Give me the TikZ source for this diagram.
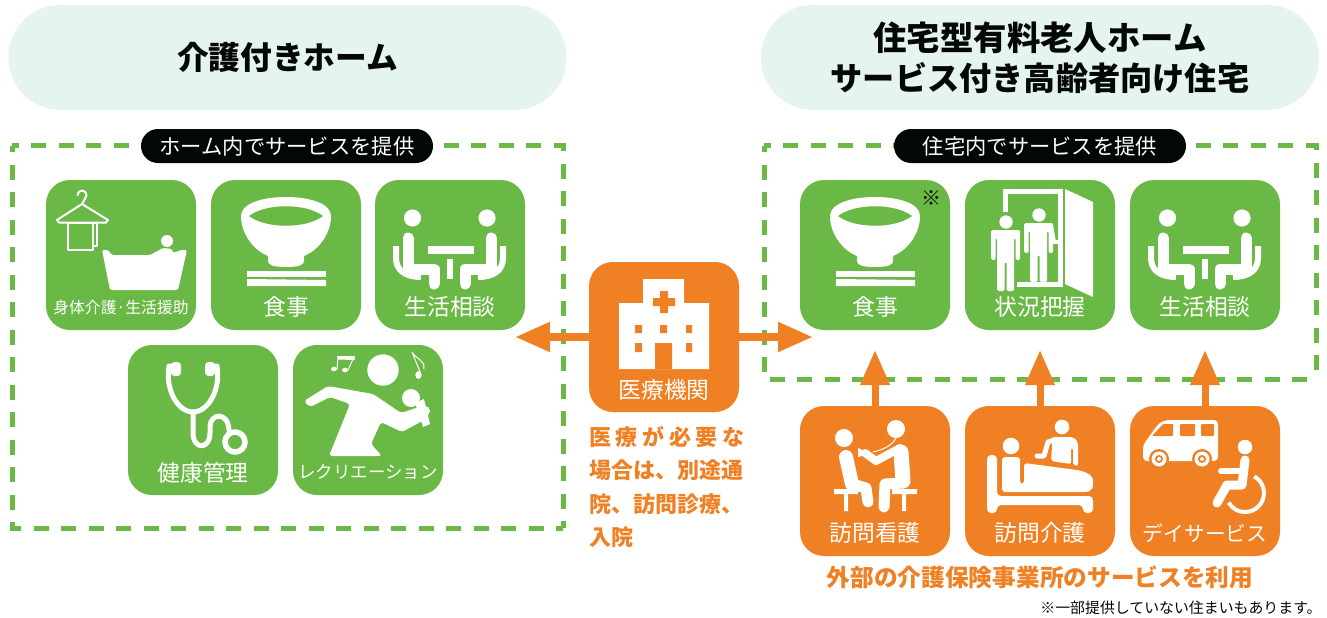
\documentclass[tikz,border=0pt]{standalone}
\usepackage{fontspec}
\setmainfont{Noto Sans CJK JP}
\usetikzlibrary{arrows.meta}
\definecolor{gr}{HTML}{6AB845}
\definecolor{og}{HTML}{EF8023}
\definecolor{mint}{HTML}{E6F4F0}
\definecolor{ink}{HTML}{040707}
\newcommand\fsz[1]{\fontsize{#1pt}{#1pt}\selectfont}
\tikzset{
 tile/.style={minimum width=150pt,minimum height=150pt,rounded corners=24pt,inner sep=0pt,draw=none},
 gtile/.style={tile,fill=gr},
 otile/.style={tile,fill=og},
 tlabel/.style={text=white,inner sep=0pt,font=\fsz{22.8}},
 titlepill/.style={fill=mint,minimum width=558pt,minimum height=105pt,rounded corners=52pt,inner sep=0pt,align=center,text=ink},
 blackpill/.style={fill=ink,minimum width=292pt,minimum height=34pt,rounded corners=17pt,inner sep=0pt,text=white,font=\fsz{21.3}},
 dashbox/.style={draw=gr,line width=5pt,dash pattern=on 15pt off 12.5pt,dash phase=8.5pt},
 oarrow/.style={draw=og,line width=8pt,-{Triangle[length=35pt,width=28pt]}},
 ln/.style={draw=white,line cap=round,line join=round},
}
\newcommand\iconBowl[2]{\begin{scope}[shift={(#1,#2)}]
 \fill[white] (30,36) .. controls (30,24) and (50,17) .. (75,17) .. controls (100,17) and (120,24) .. (120,36)
   .. controls (120,55) and (106,71) .. (93,76) -- (93,81) .. controls (93,85) and (88,87) .. (75,87) .. controls (62,87) and (57,85) .. (57,81) -- (57,76) .. controls (44,71) and (30,55) .. (30,36) -- cycle;
 \fill[gr] (38,36) .. controls (55,23) and (95,23) .. (112,36) .. controls (95,49) and (55,49) .. (38,36) -- cycle;
 \fill[white] (36,91) -- (115,91) -- (115,97) -- (36,97) -- cycle;
 \fill[white] (36,99) -- (115,100) -- (115,106) -- (36,106) -- cycle;
\end{scope}}
\newcommand\iconBath[2]{\begin{scope}[shift={(#1,#2)}]
 \draw[ln,line width=2pt] (31.5,15) arc[start angle=180,end angle=400,radius=4.5] -- (36,24) -- (62,40) -- (60,42.5) -- (13,42.5) -- (11,40) -- (36,24);
 \draw[ln,line width=2pt,line cap=butt] (22,43) rectangle (47,70);
 \draw[ln,line width=2pt,line cap=butt] (47,43) -- (51,43) -- (51,66) -- (47,66);
 \fill[white] (121,61) circle (6);
 \fill[white,rounded corners=1.5pt] (56,70) -- (62,70) -- (66,75) -- (104,75) -- (117,68) -- (126,69) -- (127,73) -- (135,70) -- (141,70) -- (132,110) -- (64,110) -- cycle;
\end{scope}}
\newcommand\iconTalk[2]{\begin{scope}[shift={(#1,#2)}]
 \fill[white] (37.5,38) circle (8.6) (112,38) circle (8.6);
 \draw[ln,line width=11pt,line join=round] (33,58) -- (33,89) -- (59,89) -- (59,104);
 \draw[ln,line width=11pt] (116,58) -- (116,89) -- (90,89) -- (90,104);
 \draw[ln,line width=6pt,line cap=butt] (21,66) -- (21,78) .. controls (21,90) and (30,97) .. (46,97);
 \draw[ln,line width=6pt,line cap=butt] (128,66) -- (128,78) .. controls (128,90) and (119,97) .. (103,97);
 \fill[white] (53,66) rectangle (99,74);
 \fill[white] (72,79) rectangle (78,99);
\end{scope}}
\newcommand\iconSteth[2]{\begin{scope}[shift={(#1,#2)}]
 \draw[ln,line width=5pt] (44,21) -- (41,21) .. controls (37,45) and (50,67) .. (65,67) .. controls (80,67) and (93,45) .. (89,21) -- (86,21);
 \draw[ln,line width=5pt] (65,67) -- (65,88) .. controls (65,105) and (82,105) .. (82,88) -- (82,82) .. controls (82,68) and (100,66) .. (101,85);
 \fill[white,rounded corners=3.5pt] (43,17) rectangle (53,31);
 \fill[white,rounded corners=3.5pt] (77,17) rectangle (87,31);
 \draw[white,line width=5.5pt] (107,97) circle (10);
\end{scope}}
\newcommand\iconSing[2]{\begin{scope}[shift={(#1,#2)}]
 \fill[white] (90,25) circle (15.7);
 \fill[white,rounded corners=3pt] (11,56) -- (35,41) -- (80,49) -- (108,68) -- (126,62) -- (131,75) -- (109,87) -- (88,77) -- (78,99) -- (89,111) -- (36,111) -- (57,59) -- (37,52) -- (17,62) -- cycle;
 \fill[white] (118,53) circle (9) (132,66) circle (5);
 \fill[white] (122,58) -- (131,54) -- (137,79) -- (130,82) -- cycle;
 \fill[white] (41,24) ellipse (3 and 2.3) (52,25) ellipse (3 and 2.3);
 \fill[white] (44,11) -- (62,11) -- (61.5,15) -- (45,14.5) -- cycle;
 \draw[white,line width=1pt] (44,24) -- (45,12) (55,25) -- (61,12);
 \fill[white] (125.5,30) ellipse (3.2 and 4);
 \draw[white,line width=1pt] (127.5,28) -- (119,7) .. controls (122,14) and (132,14) .. (131,24);
\end{scope}}
\newcommand\iconHosp[2]{\begin{scope}[shift={(#1,#2)}]
 \fill[white] (54,17) rectangle (95,42) (30,41) rectangle (120,107);
 \fill[og] (71,29) rectangle (79,51) (64,36) rectangle (86,44);
 \fill[og] (46,63) rectangle (53,71) (71,63) rectangle (78,71) (97,63) rectangle (103,71) (46,81) rectangle (53,90) (97,81) rectangle (103,90) (66,81) rectangle (83,107.2);
\end{scope}}
\newcommand\personFig[3]{\begin{scope}[shift={(#1,#2)}]
 \fill[white] (15,-8) circle (6.7);
 \fill[white,rounded corners=1.5pt] (0,30) -- (0,0) -- (29,0) -- (29,30) -- (24.5,30) -- (24.5,8) -- (23,8) -- (23,#3) -- (15.5,#3) -- (15.5,32) -- (13.5,32) -- (13.5,#3) -- (6,#3) -- (6,8) -- (4.5,8) -- (4.5,30) -- cycle;
\end{scope}}
\newcommand\iconDoor[2]{\begin{scope}[shift={(#1,#2)}]
 \draw[white,line width=5pt] (40,32) -- (40,11) -- (95,11) -- (95,104) -- (52,104);
 \fill[white] (100,9) -- (128,22) -- (128,117) -- (100,104) -- cycle;
 \personFig{26}{50}{61}
 \personFig{59}{43}{59}
 \draw[ln,line width=4pt] (86,45) -- (89,62) -- (93,62);
\end{scope}}
\newcommand\iconNurse[2]{\begin{scope}[shift={(#1,#2)}]
 \fill[white] (44,32) circle (9) (96,23) circle (9);
 \draw[ln,line width=14pt] (46,51) -- (52,78);
 \draw[ln,line width=11pt] (52,78) -- (66,82) -- (68,96);
 \draw[ln,line width=15pt] (101,46) -- (103,75);
 \draw[ln,line width=11pt] (103,77) -- (85,78) -- (84,101);
 \draw[ln,line width=8pt] (100,42) -- (76,55) -- (65,47);
 \fill[white] (58,42) -- (62,44) -- (62,50) -- (58,51) -- cycle;
 \draw[white,line width=1pt] (96,32) .. controls (92,40) and (82,44) .. (73,46);
 \fill[white] (34,83) rectangle (58,88) (44,88) rectangle (48,105);
 \fill[white] (92,83) rectangle (117,88) (102,88) rectangle (106,105);
\end{scope}}
\newcommand\iconBed[2]{\begin{scope}[shift={(#1,#2)}]
 \fill[white] (46,40) circle (8.3) (97,21) circle (7.3);
 \fill[white,rounded corners=4pt] (22,107) -- (22,49) -- (32,49) -- (32,90) -- (128,90) -- (128,107) -- (118,107) -- (118,99) -- (32,99) -- (32,107) -- cycle;
 \fill[white,rounded corners=3pt] (37,86) -- (37,51) -- (55,51) -- (55,78) -- (59,78) -- (59,57) -- (112,64) .. controls (122,66) and (128,70) .. (128,77) .. controls (128,83) and (124,86) .. (118,86) -- cycle;
 \fill[white,rounded corners=2pt] (87,31) -- (108,31) -- (113,36) -- (113,60) -- (108,59) -- (108,42) -- (106,42) -- (106,58) -- (86,55) -- (87,42) -- cycle;
 \draw[ln,line width=5pt] (89,34) -- (83,36) -- (79,50) -- (72,50);
\end{scope}}
\newcommand\iconVan[2]{\begin{scope}[shift={(#1,#2)}]
 \fill[white,rounded corners=4pt] (13,55) -- (13,39) -- (29,17) -- (36,14) -- (88,14) -- (88,55) -- cycle;
 \fill[og,rounded corners=1pt] (22,30) -- (33,18) -- (43,18) -- (43,30) -- cycle;
 \fill[og,rounded corners=1pt] (50,18) rectangle (65,30) (71,18) rectangle (84,30);
 \foreach \wx in {29,72}{
  \fill[og] (\wx,53) circle (10); \fill[white] (\wx,53) circle (7.5); \fill[og] (\wx,53) circle (4); \fill[white] (\wx,53) circle (2);}
 \fill[white] (115,41) circle (7.3);
 \draw[ln,line width=9pt] (115,54) -- (112,79) -- (97,79) -- (87,97);
 \draw[ln,line width=6pt] (113,65) -- (91,65);
 \draw[white,line width=4pt] (124.2,70.4) arc[start angle=-61,end angle=150,radius=19];
\end{scope}}
\begin{document}
\begin{tikzpicture}[x=1pt,y=1pt,yscale=-1]
\useasboundingbox (0,0) rectangle (1327,618);
% titles
\node[titlepill,font=\fontsize{31.7}{31.7}\selectfont\bfseries] (titleL) at (287.5,57.5) {介護付きホーム};
\node[titlepill,font=\fontsize{33}{40}\selectfont\bfseries] (titleR) at (1040,57.5) {{\fontsize{33.4}{40}\selectfont 住宅型有料老人ホーム}\\{\fontsize{32.2}{40}\selectfont サービス付き高齢者向け住宅}};
% dashed frames
\coordinate (la) at (12,145.5); \coordinate (lb) at (563,145.5); \coordinate (lc) at (563,528); \coordinate (ld) at (12,528);
\coordinate (ra) at (764,145.5); \coordinate (rb) at (1316,145.5); \coordinate (rc) at (1316,379); \coordinate (rd) at (764,379);
\draw[dashbox] (la) -- (lb) -- (lc);
\draw[dashbox] (la) -- (ld) -- (lc);
\draw[dashbox] (ra) -- (rb) -- (rc);
\draw[dashbox] (ra) -- (rd) -- (rc);
\node[blackpill] (pillL) at (287,146) {ホーム内でサービスを提供};
\node[blackpill] (pillR) at (1040,146) {住宅内でサービスを提供};
% left tiles
\node[gtile] (a1) at (121,255) {};
\node[gtile] (a2) at (286,255) {};
\node[gtile] (a3) at (450,255) {};
\node[gtile] (a4) at (203,420) {};
\node[gtile] (a5) at (368,420) {};
% hospital
\node[otile] (hosp) at (664,337) {};
% right tiles
\node[gtile] (b1) at (875,255) {};
\node[gtile] (b2) at (1040,255) {};
\node[gtile] (b3) at (1205,255) {};
\node[otile] (c1) at (875,481) {};
\node[otile] (c2) at (1040,481) {};
\node[otile] (c3) at (1205,481) {};
% arrows
\coordinate (tipL) at (515,337); \coordinate (tipR) at (813,337);
\draw[oarrow] (hosp.west) -- (tipL);
\draw[oarrow] (hosp.east) -- (tipR);
\coordinate (up1) at (875,350); \coordinate (up2) at (1040,350); \coordinate (up3) at (1205,350);
\draw[oarrow,line width=7pt] (c1.north) -- (up1);
\draw[oarrow,line width=7pt] (c2.north) -- (up2);
\draw[oarrow,line width=7pt] (c3.north) -- (up3);
% icons
\iconBath{46}{180}
\iconBowl{211}{180}
\iconTalk{375}{180}
\iconSteth{128}{345}
\iconSing{293}{345}
\iconHosp{589}{262}
\iconBowl{800}{180}
\iconDoor{965}{180}
\iconTalk{1130}{180}
\iconNurse{800}{406}
\iconBed{965}{406}
\iconVan{1130}{406}
% labels
\node[tlabel,font=\fsz{15.8}] (a1t) at (121,307) {身体介護·生活援助};
\node[tlabel] (a2t) at (286,307) {食事};
\node[tlabel] (a3t) at (450,307) {生活相談};
\node[tlabel] (a4t) at (203,473) {健康管理};
\node[tlabel,font=\fsz{17.4}] (a5t) at (368,472) {レクリエーション};
\node[tlabel] (hospt) at (664,390) {医療機関};
\node[tlabel] (b1t) at (875,307) {食事};
\node[tlabel] (b2t) at (1040,307) {状況把握};
\node[tlabel] (b3t) at (1205,307) {生活相談};
\node[tlabel] (c1t) at (875,533) {訪問看護};
\node[tlabel] (c2t) at (1040,533) {訪問介護};
\node[tlabel,font=\fsz{20.7}] (c3t) at (1205,533) {デイサービス};
\node[inner sep=0pt,font=\fsz{20},text=ink] (ast) at (931,198) {※};
% orange note
\node[inner sep=0pt,anchor=north west,align=left,text=og,font=\fontsize{22}{33.4}\selectfont\bfseries] (note) at (589,426) {\hbox to 155pt{医\hfill 療\hfill が\hfill 必\hfill 要\hfill な}\\場合は、別途通\\院、訪問診療、\\入院};
\node[inner sep=0pt,text=og,font=\fsz{23.7}\bfseries] (ext) at (1040,577) {外部の介護保険事業所のサービスを利用};
\node[inner sep=0pt,text=ink,font=\fsz{14.9}] (foot) at (1181,608) {※一部提供していない住まいもあります。};
\end{tikzpicture}
\end{document}
